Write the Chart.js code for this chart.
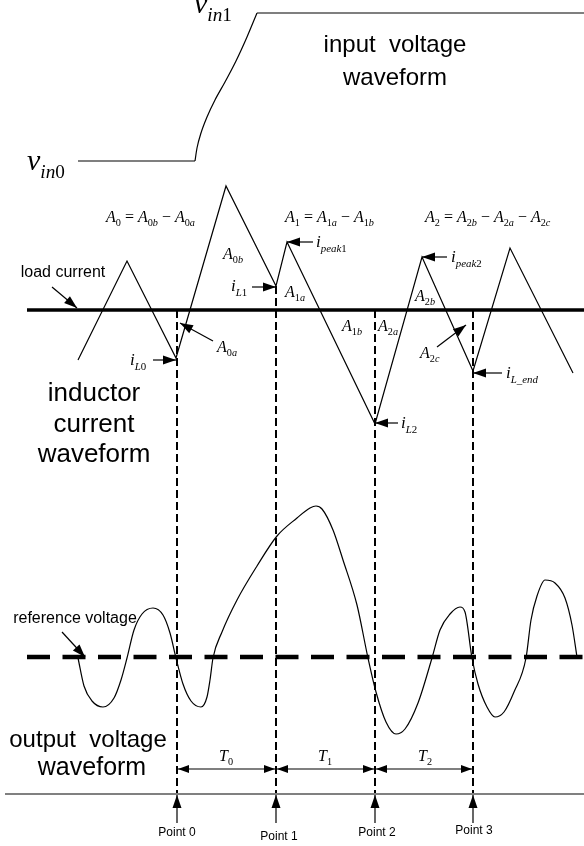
<!DOCTYPE html>
<html>
<head>
<meta charset="utf-8">
<script src="https://cdn.jsdelivr.net/npm/chart.js@4/dist/chart.umd.min.js"></script>
<style>html,body{margin:0;padding:0;background:#fff}canvas{display:block}</style>
</head>
<body>
<canvas id="c" width="584" height="846"></canvas>
<script>

// input voltage: v_in0 level, rising edge, v_in1 level
const vinLowX = [78, 195], vinLowY = [161, 161];
const vinRiseX = [195, 197, 201, 207, 215, 225, 236, 247, 257];
const vinRiseY = [161, 148, 133, 117, 100, 82, 61, 37, 13];
const vinHighX = [257, 584], vinHighY = [13, 13];

// inductor current triangle wave
const iLX = [78, 127, 176, 226, 276, 287, 375, 422, 473, 510, 573];
const iLY = [360, 261, 358, 186, 286, 242, 424, 257, 371, 248, 373];
const loadY = 310;

// output voltage
const voX = [78, 84, 92, 103, 114, 121, 127, 134, 142, 153, 163, 170, 176, 183, 191, 201, 207, 210, 213,
  222, 237, 257, 277, 297, 310, 316, 322, 333, 343, 357, 368, 376, 386, 396, 405, 418, 432, 440, 450, 460,
  465, 472, 478, 487, 495, 504, 514, 526, 531, 537, 545, 555, 565, 572, 577];
const voY = [658, 686, 701, 707, 698, 680, 658, 630, 614, 608, 615, 633, 658, 684, 701, 707, 697, 680, 658,
  632, 600, 566, 536, 518, 508, 506, 509, 530, 560, 605, 658, 692, 722, 734, 729, 703, 658, 630, 614, 607,
  612, 658, 684, 707, 717, 712, 692, 658, 620, 596, 580, 583, 598, 625, 657];
const refY = 657;

// sampling instants (Point 0..3) and where each marker starts
const pointX = [177, 276, 375, 473];
const pointTop = [310, 286, 310, 310];
const pointNames = ['Point 0', 'Point 1', 'Point 2', 'Point 3'];
const periodNames = ['T_{0}', 'T_{1}', 'T_{2}'];
const baseY = 794;

const pts = (xs, ys) => xs.map((x, i) => ({x, y: ys[i]}));
const line = (data, extra) => Object.assign({
  data, showLine: true, pointRadius: 0, borderColor: '#000', borderWidth: 1.2,
  tension: 0, fill: false
}, extra);

const datasets = [
  line(pts(vinLowX, vinLowY)),
  line(pts(vinRiseX, vinRiseY), {cubicInterpolationMode: 'monotone'}),
  line(pts(vinHighX, vinHighY)),
  line(pts(iLX, iLY)),
  line([{x: 27, y: loadY}, {x: 584, y: loadY}], {borderWidth: 3.5}),
  line(pts(voX, voY), {cubicInterpolationMode: 'monotone'}),
  line([{x: 27, y: refY}, {x: 584, y: refY}], {borderWidth: 4.5, borderDash: [23, 12.5]}),
  line([{x: 5, y: baseY}, {x: 584, y: baseY}], {borderColor: '#808080', borderWidth: 2})
];

pointX.forEach((x, i) => {
  datasets.push(line([{x, y: pointTop[i]}, {x, y: baseY}], {borderWidth: 2, borderDash: [8, 4]}));
  datasets.push(line([{x, y: 823}, {x, y: 795}], {arrow: 'end', head: [13, 4.5]}));
  if (i < pointX.length - 1) {
    datasets.push(line([{x: x + 1, y: 769}, {x: pointX[i + 1] - 1, y: 769}],
      {borderColor: '#555', borderWidth: 1.5, arrow: 'both', head: [11, 4]}));
  }
});

// annotation arrows: from text to the feature
const callouts = [
  [52, 287, 77, 308], [153, 360, 176, 360], [213, 341, 180, 323], [252, 287, 276, 287],
  [313, 242, 287, 242], [447, 257, 422, 257], [437, 347, 466, 325], [502, 373, 473, 373],
  [398, 423, 375, 423], [62, 632, 85, 657]
];
callouts.forEach(c => datasets.push(line([{x: c[0], y: c[1]}, {x: c[2], y: c[3]}],
  {borderWidth: 1.2, arrow: 'end', head: [13, 4.5]})));

const mathLabels = [
  ['v_{in1}', 194, 13, 30], ['v_{in0}', 27, 170, 30],
  ['A_{0} = A_{0b} − A_{0a}', 106, 222, 16], ['A_{1} = A_{1a} − A_{1b}', 285, 222, 16],
  ['A_{2} = A_{2b} − A_{2a} − A_{2c}', 425, 222, 16],
  ['A_{0b}', 223, 259, 16], ['A_{1a}', 285, 297, 16], ['A_{0a}', 217, 352, 16],
  ['A_{2b}', 415, 301, 16], ['A_{1b}', 342, 331, 16], ['A_{2a}', 378, 331, 16], ['A_{2c}', 420, 358, 16],
  ['i_{L1}', 231, 291, 17], ['i_{L0}', 130, 365, 17], ['i_{peak1}', 316, 247, 17],
  ['i_{peak2}', 451, 262, 17], ['i_{L_end}', 506, 378, 17], ['i_{L2}', 401, 428, 17],
  [periodNames[0], 219, 761, 16], [periodNames[1], 318, 761, 16], [periodNames[2], 418, 761, 16]
];

const textLabels = [
  ['input  voltage', 395, 45, 24], ['waveform', 395, 78, 24],
  ['load current', 63, 273, 16], ['reference voltage', 75, 619, 16],
  ['inductor', 94, 394, 26], ['current', 94, 425, 26], ['waveform', 94, 455, 26],
  ['output  voltage', 88, 740, 24], ['waveform', 92, 768, 25],
  [pointNames[0], 177, 833, 12], [pointNames[1], 279, 837, 12],
  [pointNames[2], 377, 833, 12], [pointNames[3], 474, 831, 12]
];

function drawHead(ctx, x1, y1, x2, y2, len, hw) {
  const a = Math.atan2(y2 - y1, x2 - x1);
  ctx.save();
  ctx.translate(x2, y2);
  ctx.rotate(a);
  ctx.beginPath();
  ctx.moveTo(0, 0);
  ctx.lineTo(-len, hw);
  ctx.lineTo(-len, -hw);
  ctx.closePath();
  ctx.fill();
  ctx.restore();
}

function drawMath(ctx, str, x, y, size) {
  const runs = [];
  let i = 0;
  while (i < str.length) {
    if (str[i] === '_' && str[i + 1] === '{') {
      const j = str.indexOf('}', i);
      runs.push([str.slice(i + 2, j), true]);
      i = j + 1;
    } else {
      let j = i;
      while (j < str.length && !(str[j] === '_' && str[j + 1] === '{')) j++;
      runs.push([str.slice(i, j), false]);
      i = j;
    }
  }
  let cx = x;
  runs.forEach(([t, sub]) => {
    const s = sub ? size * 0.64 : size;
    const dy = sub ? size * 0.28 : 0;
    for (const ch of t) {
      ctx.font = (/[a-zA-Z]/.test(ch) ? 'italic ' : '') + s + 'px "Liberation Serif"';
      ctx.fillText(ch, cx, y + dy);
      cx += ctx.measureText(ch).width;
    }
  });
}

const decor = {
  id: 'decor',
  afterDatasetsDraw(chart) {
    const ctx = chart.ctx, sx = chart.scales.x, sy = chart.scales.y;
    const px = v => sx.getPixelForValue(v), py = v => sy.getPixelForValue(v);
    ctx.save();
    ctx.fillStyle = '#000';
    chart.data.datasets.forEach(ds => {
      if (!ds.arrow) return;
      const a = ds.data[0], b = ds.data[ds.data.length - 1];
      drawHead(ctx, px(a.x), py(a.y), px(b.x), py(b.y), ds.head[0], ds.head[1]);
      if (ds.arrow === 'both') drawHead(ctx, px(b.x), py(b.y), px(a.x), py(a.y), ds.head[0], ds.head[1]);
    });
    ctx.textAlign = 'left';
    ctx.textBaseline = 'alphabetic';
    mathLabels.forEach(m => drawMath(ctx, m[0], px(m[1]), py(m[2]), m[3]));
    ctx.textAlign = 'center';
    ctx.textBaseline = 'middle';
    textLabels.forEach(t => {
      ctx.font = t[3] + 'px "Liberation Sans", Arial, sans-serif';
      ctx.fillText(t[0], px(t[1]), py(t[2]));
    });
    ctx.restore();
  }
};

new Chart(document.getElementById('c'), {
  type: 'scatter',
  data: {datasets},
  options: {
    responsive: false,
    animation: false,
    events: [],
    layout: {padding: 0},
    plugins: {legend: {display: false}, tooltip: {enabled: false}},
    scales: {
      x: {type: 'linear', min: 0, max: 584, display: false},
      y: {type: 'linear', min: 0, max: 846, reverse: true, display: false}
    }
  },
  plugins: [decor]
});
</script>
</body>
</html>
